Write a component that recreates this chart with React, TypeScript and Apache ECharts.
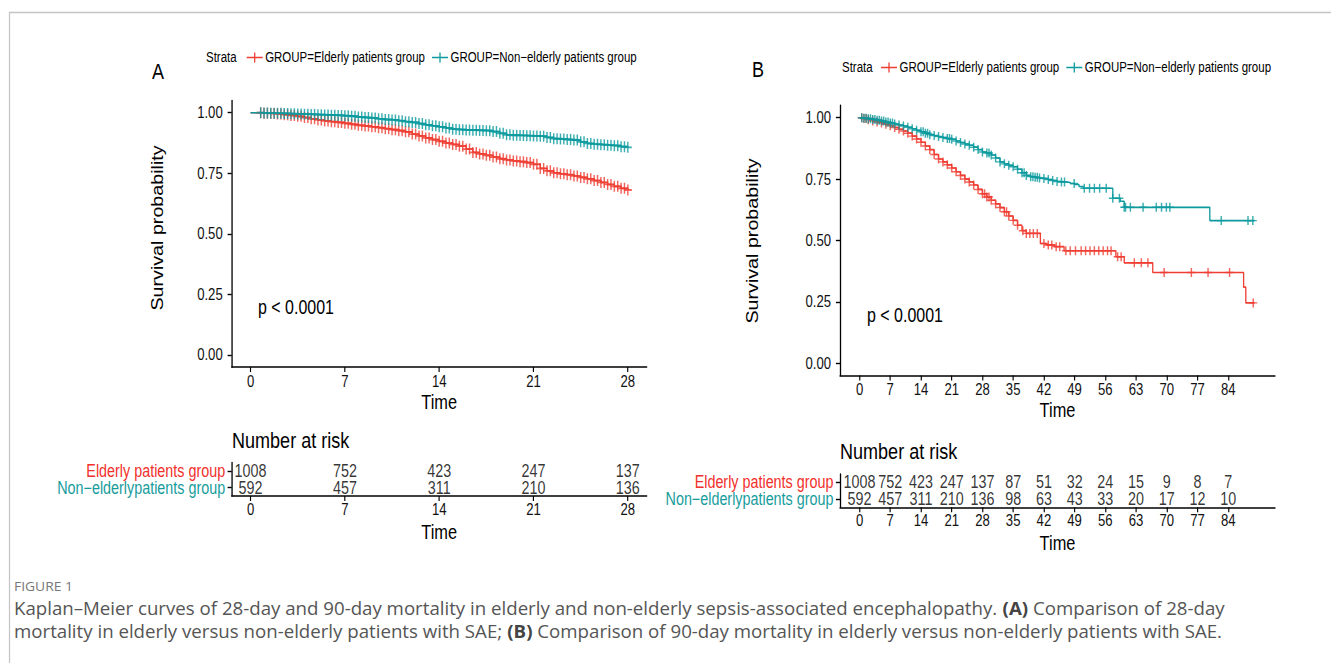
import React, { useEffect, useRef } from 'react';
import * as echarts from 'echarts';

// ---------------- Data ----------------
const A_TICKS = [0, 7, 14, 21, 28];
const B_TICKS = [0, 7, 14, 21, 28, 35, 42, 49, 56, 63, 70, 77, 84];
const Y_TICKS = [0, 0.25, 0.5, 0.75, 1];

// Panel A (28-day) KM curves, read every half day
const A_TIME = [0, 0.5, 1, 1.5, 2, 2.5, 3, 3.5, 4, 4.5, 5, 5.5, 6, 6.5, 7, 7.5, 8, 8.5, 9, 9.5, 10, 10.5, 11, 11.5, 12, 12.5, 13, 13.5, 14, 14.5, 15, 15.5, 16, 16.5, 17, 17.5, 18, 18.5, 19, 19.5, 20, 20.5, 21, 21.5, 22, 22.5, 23, 23.5, 24, 24.5, 25, 25.5, 26, 26.5, 27, 27.5, 28];
const A_ELDERLY_SURV = [1.0, 1.0, 0.998, 0.997, 0.995, 0.992, 0.989, 0.985, 0.98, 0.975, 0.97, 0.966, 0.963, 0.96, 0.956, 0.952, 0.948, 0.945, 0.942, 0.938, 0.934, 0.93, 0.926, 0.921, 0.912, 0.904, 0.896, 0.889, 0.882, 0.875, 0.869, 0.862, 0.85, 0.836, 0.83, 0.824, 0.817, 0.81, 0.805, 0.801, 0.798, 0.794, 0.787, 0.77, 0.76, 0.752, 0.748, 0.744, 0.739, 0.733, 0.727, 0.72, 0.712, 0.704, 0.696, 0.688, 0.681];
const A_NONELDERLY_SURV = [1.0, 1.0, 0.999, 0.998, 0.998, 0.997, 0.996, 0.995, 0.994, 0.993, 0.992, 0.991, 0.99, 0.989, 0.987, 0.985, 0.982, 0.98, 0.978, 0.975, 0.972, 0.97, 0.967, 0.963, 0.96, 0.955, 0.95, 0.946, 0.942, 0.937, 0.932, 0.93, 0.929, 0.928, 0.927, 0.926, 0.922, 0.915, 0.909, 0.907, 0.906, 0.905, 0.904, 0.903, 0.898, 0.893, 0.891, 0.889, 0.887, 0.88, 0.873, 0.87, 0.868, 0.866, 0.864, 0.86, 0.857];
// censored observations in panel A occur throughout follow-up (dense marks)
const A_CENSOR = [0.75, 1, 1.25, 1.5, 1.75, 2, 2.25, 2.5, 2.75, 3, 3.25, 3.5, 3.75, 4, 4.25, 4.5, 4.75, 5, 5.25, 5.5, 5.75, 6, 6.25, 6.5, 6.75, 7, 7.25, 7.5, 7.75, 8, 8.25, 8.5, 8.75, 9, 9.25, 9.5, 9.75, 10, 10.25, 10.5, 10.75, 11, 11.25, 11.5, 11.75, 12, 12.25, 12.5, 12.75, 13, 13.25, 13.5, 13.75, 14, 14.25, 14.5, 14.75, 15, 15.25, 15.5, 15.75, 16, 16.25, 16.5, 16.75, 17, 17.25, 17.5, 17.75, 18, 18.25, 18.5, 18.75, 19, 19.25, 19.5, 19.75, 20, 20.25, 20.5, 20.75, 21, 21.25, 21.5, 21.75, 22, 22.25, 22.5, 22.75, 23, 23.25, 23.5, 23.75, 24, 24.25, 24.5, 24.75, 25, 25.25, 25.5, 25.75, 26, 26.25, 26.5, 26.75, 27, 27.25, 27.5, 27.75, 28];

// Panel B (90-day) KM curves
const B_ELDERLY_TIME = [0, 1, 2, 3, 4, 5, 6, 7, 8, 9, 10, 11, 12, 13, 14, 15, 16, 17, 18, 19, 20, 21, 22, 23, 24, 25, 26, 27, 28, 29, 30, 31, 32, 33, 34, 35, 36, 37, 38, 41.2, 42.5, 44.4, 46.6, 58.4, 60.3, 66.8, 87.5, 88, 90];
const B_ELDERLY_SURV = [1.0, 0.997, 0.992, 0.987, 0.982, 0.978, 0.973, 0.967, 0.96, 0.953, 0.946, 0.937, 0.925, 0.913, 0.9, 0.885, 0.87, 0.85, 0.832, 0.82, 0.808, 0.795, 0.78, 0.765, 0.75, 0.738, 0.726, 0.708, 0.69, 0.677, 0.664, 0.649, 0.634, 0.617, 0.6, 0.582, 0.562, 0.54, 0.529, 0.488, 0.482, 0.475, 0.458, 0.434, 0.409, 0.37, 0.31, 0.246, 0.246];
const B_NONELDERLY_TIME = [0, 1, 2, 3, 4, 5, 6, 7, 8, 9, 10, 11, 12, 13, 14, 15, 16, 17, 18, 19, 20, 21, 22, 23, 24, 25, 26, 27, 28, 29, 30, 31, 32, 33, 34, 35, 36, 37, 38, 39, 40, 41, 42, 43, 44, 45, 46, 47, 48, 49, 50, 51, 57.7, 59.4, 60.3, 79.8, 90];
const B_NONELDERLY_SURV = [1.0, 0.998, 0.996, 0.993, 0.99, 0.986, 0.982, 0.978, 0.974, 0.97, 0.966, 0.961, 0.955, 0.949, 0.943, 0.937, 0.931, 0.927, 0.923, 0.919, 0.915, 0.912, 0.905, 0.899, 0.893, 0.888, 0.88, 0.87, 0.86, 0.856, 0.848, 0.836, 0.82, 0.812, 0.806, 0.8, 0.79, 0.776, 0.765, 0.76, 0.757, 0.754, 0.752, 0.748, 0.744, 0.74, 0.738, 0.736, 0.732, 0.728, 0.72, 0.713, 0.672, 0.66, 0.635, 0.581, 0.581];
const B_ELDERLY_CENSOR = [0.5, 1, 1.5, 2, 3, 4, 5, 6, 7, 8, 9, 10, 11, 12, 13, 14, 15, 16, 17, 18, 19, 20, 21, 22, 23, 24, 25, 26, 27, 28, 28.5, 29, 29.5, 30, 31, 32, 33, 33.5, 34, 35, 36, 37.2, 38, 38.8, 39.6, 40.5, 42, 43, 43.8, 44.8, 45.6, 47, 48, 49.2, 50.5, 51.5, 52.5, 53.5, 54.5, 55.5, 56.5, 57.3, 58.8, 59.6, 62.6, 64.2, 65.7, 69.4, 75.6, 79.4, 84.3, 89.7];
const B_NONELDERLY_CENSOR = [0.5, 1, 1.5, 2, 2.5, 3, 3.5, 4, 4.5, 5, 5.5, 6, 6.5, 7, 7.5, 8, 9, 10, 11, 12, 13, 14, 14.5, 15, 15.5, 16, 17, 18, 19, 20, 20.5, 21, 22, 23, 24, 25, 26, 27, 28, 29, 29.5, 30, 31, 32, 33, 34, 35, 36, 37, 37.5, 38, 39, 39.5, 40, 40.5, 41, 42, 43, 44, 45, 46, 46.7, 48.9, 51.2, 52.4, 53.5, 54.7, 56.2, 57.7, 59.2, 60.3, 60.6, 61.7, 64.6, 67.6, 68.8, 69.9, 70.7, 82.4, 88.5, 89.6];

// Number at risk
const A_RISK_ELDERLY = [1008, 752, 423, 247, 137];
const A_RISK_NONELDERLY = [592, 457, 311, 210, 136];
const B_RISK_ELDERLY = [1008, 752, 423, 247, 137, 87, 51, 32, 24, 15, 9, 8, 7];
const B_RISK_NONELDERLY = [592, 457, 311, 210, 136, 98, 63, 43, 33, 20, 17, 12, 10];

const GROUPS = ['GROUP=Elderly patients group', 'GROUP=Non\u2212elderly patients group'];
const RISK_ROWS = ['Non\u2212elderlypatients group', 'Elderly patients group'];

const CAPTION_1 = 'Kaplan\u2013Meier curves of 28-day and 90-day mortality in elderly and non-elderly sepsis-associated encephalopathy. ';
const CAPTION_1B = ' Comparison of 28-day';
const CAPTION_2 = 'mortality in elderly versus non-elderly patients with SAE; ';
const CAPTION_2B = ' Comparison of 90-day mortality in elderly versus non-elderly patients with SAE.';

// ---------------- Styles ----------------
const SX = 0.82; // the figure is horizontally condensed
const W = 1331;
const H = 663;
const RED = '#EF3E33';
const TEAL = '#0B9A9E';
const RED_TXT = '#F2302B';
const TEAL_TXT = '#179C9C';
const PLUS = 'path://M0,4.2H4.1V0H5.9V4.2H10V5.8H5.9V10H4.1V5.8H0Z';
const LEGEND_ICON = 'path://M0,4.25H9.2V0H10.8V4.25H20V5.75H10.8V10H9.2V5.75H0Z';
const FONT = '"Liberation Sans", Arial, Helvetica, sans-serif';
const CF = '"Open Sans", "Noto Sans", sans-serif';

function measure(text: string, font: string): number {
  const ctx = document.createElement('canvas').getContext('2d');
  if (!ctx) return 1;
  ctx.font = font;
  return ctx.measureText(text).width;
}

function stepAt(ts: number[], ss: number[], t: number): number {
  let v = ss[0];
  for (let i = 0; i < ts.length; i++) if (ts[i] <= t) v = ss[i];
  return v;
}

const g = (x: number) => x / SX; // reference x -> chart x (before horizontal condensing)

export default function App() {
  const ref = useRef<HTMLDivElement>(null);

  useEffect(() => {
    document.body.style.margin = '0';
    if (!ref.current) return;
    const capSize = 18;
    const capW = measure(CAPTION_1 + '(A)' + CAPTION_1B, `${capSize}px "Open Sans"`);
    const capScale = g(1208) / capW;
    const figW = measure('FIGURE 1', '12px "Open Sans"');
    const figScale = g(59) / figW;

    const chart = echarts.init(ref.current, null, { renderer: 'svg' });

    const axisLine = { show: true, onZero: false, lineStyle: { color: '#000', width: 1.6 } };
    const axisTick = (vals?: number[]) => ({ show: true, length: 5, lineStyle: { color: '#000', width: 1.4 }, ...(vals ? { customValues: vals } : {}) });
    const tickLabel = (vals: number[], size: number, margin: number, fmt?: (v: number) => string) => ({
      customValues: vals,
      fontSize: size,
      fontFamily: FONT,
      color: '#111',
      margin,
      formatter: fmt || ((v: number) => String(v)),
    });

    const grids = [
      { left: g(231.7), top: 100.6, width: g(415), height: 266.5 }, // A main
      { left: g(231.7), top: 462.6, width: g(415), height: 33.4 }, // A table
      { left: g(840), top: 105.4, width: g(435), height: 270.2 }, // B main
      { left: g(840), top: 474, width: g(435), height: 33.3 }, // B table
    ];

    const xAxis = (min: number, max: number, ticks: number[], gi: number, nameGap: number, labelMargin: number) => ({
      type: 'value', gridIndex: gi, min, max,
      axisLine, axisTick: axisTick(ticks), splitLine: { show: false },
      axisLabel: tickLabel(ticks, 16, labelMargin),
      name: 'Time', nameLocation: 'middle', nameGap,
      nameTextStyle: { fontSize: 20, fontFamily: FONT, color: '#000' },
    });

    const yMain = (gi: number) => ({
      type: 'value', gridIndex: gi, min: -0.05, max: 1.05,
      axisLine, axisTick: axisTick(Y_TICKS), splitLine: { show: false },
      axisLabel: tickLabel(Y_TICKS, 16, 11, (v: number) => v.toFixed(2)),
    });

    const yTable = (gi: number) => ({
      type: 'category', gridIndex: gi, data: RISK_ROWS,
      axisLine, axisTick: { show: true, alignWithLabel: true, length: 5, lineStyle: { color: '#000', width: 1.4 } },
      splitLine: { show: false },
      axisLabel: {
        interval: 0, fontSize: 17.5, fontFamily: FONT, margin: 8,
        color: (_v: string, i: number) => (i === 1 ? RED_TXT : TEAL_TXT),
      },
    });

    const kmLine = (name: string, data: number[][], color: string, xi: number) => ({
      type: 'line', name, xAxisIndex: xi, yAxisIndex: xi, step: 'end', data,
      symbol: 'none', lineStyle: { color, width: 1.6 }, itemStyle: { color },
      emphasis: { disabled: true }, silent: true, z: 3,
    });

    const censor = (times: number[], ts: number[], ss: number[], color: string, xi: number, size: number[]) => ({
      type: 'scatter', xAxisIndex: xi, yAxisIndex: xi,
      data: times.map((t) => [t, stepAt(ts, ss, t)]),
      symbol: PLUS, symbolSize: size, itemStyle: { color }, silent: true, z: 4,
    });

    const riskText = (times: number[], counts: number[], row: number, xi: number) => ({
      type: 'scatter', xAxisIndex: xi, yAxisIndex: xi,
      data: times.map((t, i) => [t, row, counts[i]]),
      symbolSize: 1, itemStyle: { color: 'transparent' }, silent: true,
      label: { show: true, position: 'inside', formatter: (p: any) => String(p.value[2]), fontSize: 17.5, fontFamily: FONT, color: '#000' },
    });

    const txt = (text: string, x: number, y: number, size: number, font: string, extra: any = {}) => ({
      type: 'text', x, y, silent: true,
      style: { text, fontSize: size, fontFamily: font, fill: '#000', verticalAlign: 'middle', align: 'left', ...extra },
    });

    const legend = (left: number, top: number) => ({
      data: GROUPS, left: g(left), top, orient: 'horizontal', itemGap: g(7), itemWidth: g(16), itemHeight: 10,
      icon: LEGEND_ICON, padding: 0, selectedMode: false,
      textStyle: { fontSize: 14, fontFamily: FONT, color: '#000', padding: [0, 0, 0, -2] },
    });

    chart.setOption({
      animation: false,
      backgroundColor: '#fff',
      grid: grids,
      legend: [legend(246.7, 50.5), legend(881, 60.5)],
      xAxis: [
        xAxis(-1.4, 29.4, A_TICKS, 0, 25, 6),
        xAxis(-1.4, 29.4, A_TICKS, 1, 26, 6),
        xAxis(-4.45, 94.65, B_TICKS, 2, 24, 6),
        xAxis(-4.45, 94.65, B_TICKS, 3, 26, 5),
      ],
      yAxis: [yMain(0), yTable(1), yMain(2), yTable(3)],
      series: [
        kmLine(GROUPS[0], A_TIME.map((t, i) => [t, A_ELDERLY_SURV[i]]), RED, 0),
        kmLine(GROUPS[1], A_TIME.map((t, i) => [t, A_NONELDERLY_SURV[i]]), TEAL, 0),
        censor(A_CENSOR, A_TIME, A_ELDERLY_SURV, RED, 0, [g(8), 11]),
        censor(A_CENSOR, A_TIME, A_NONELDERLY_SURV, TEAL, 0, [g(8), 11]),
        kmLine(GROUPS[0], B_ELDERLY_TIME.map((t, i) => [t, B_ELDERLY_SURV[i]]), RED, 2),
        kmLine(GROUPS[1], B_NONELDERLY_TIME.map((t, i) => [t, B_NONELDERLY_SURV[i]]), TEAL, 2),
        censor(B_ELDERLY_CENSOR, B_ELDERLY_TIME, B_ELDERLY_SURV, RED, 2, [g(8), 9]),
        censor(B_NONELDERLY_CENSOR, B_NONELDERLY_TIME, B_NONELDERLY_SURV, TEAL, 2, [g(8), 9]),
        riskText(A_TICKS, A_RISK_ELDERLY, 1, 1),
        riskText(A_TICKS, A_RISK_NONELDERLY, 0, 1),
        riskText(B_TICKS, B_RISK_ELDERLY, 1, 3),
        riskText(B_TICKS, B_RISK_NONELDERLY, 0, 3),
      ],
      graphic: [
        { type: 'rect', silent: true, shape: { x: g(9.5), y: 12.5, width: 2000, height: 800 }, style: { fill: 'none', stroke: '#c4c4c4', lineWidth: 1.5 } },
        txt('A', g(152), 71, 22, FONT),
        txt('B', g(752), 69, 22, FONT),
        txt('Strata', g(206), 57, 14, FONT),
        txt('Strata', g(842), 67, 14, FONT),
        { type: 'text', x: g(158), y: 228, rotation: Math.PI / 2, silent: true, style: { text: 'Survival probability', fontSize: 19.7, fontFamily: FONT, fill: '#000', align: 'center', verticalAlign: 'middle' } },
        { type: 'text', x: g(753), y: 241, rotation: Math.PI / 2, silent: true, style: { text: 'Survival probability', fontSize: 19.7, fontFamily: FONT, fill: '#000', align: 'center', verticalAlign: 'middle' } },
        txt('p < 0.0001', g(258), 307, 19.5, FONT),
        txt('p < 0.0001', g(867), 315, 19.5, FONT),
        txt('Number at risk', g(232), 440, 22, FONT),
        txt('Number at risk', g(840), 451, 22, FONT),
        { type: 'text', x: g(14), y: 586, scaleX: figScale, silent: true, style: { text: 'FIGURE 1', fontSize: 12, fontFamily: CF, fill: '#777', verticalAlign: 'middle' } },
        {
          type: 'text', x: g(14), y: 608, scaleX: capScale, silent: true,
          style: {
            text: CAPTION_1 + '{b|(A)}' + CAPTION_1B, fontSize: capSize, fontFamily: CF, fill: '#555', verticalAlign: 'middle',
            rich: { b: { fontWeight: 'bold', fontSize: capSize, fontFamily: CF, fill: '#444' } },
          },
        },
        {
          type: 'text', x: g(14), y: 631, scaleX: capScale, silent: true,
          style: {
            text: CAPTION_2 + '{b|(B)}' + CAPTION_2B, fontSize: capSize, fontFamily: CF, fill: '#555', verticalAlign: 'middle',
            rich: { b: { fontWeight: 'bold', fontSize: capSize, fontFamily: CF, fill: '#444' } },
          },
        },
      ],
    });

    return () => chart.dispose();
  }, []);

  return (
    <div style={{ width: W, height: H, overflow: 'hidden', position: 'relative' }}>
      <div ref={ref} style={{ width: W / SX, height: H, transform: `scaleX(${SX})`, transformOrigin: '0 0' }} />
    </div>
  );
}
